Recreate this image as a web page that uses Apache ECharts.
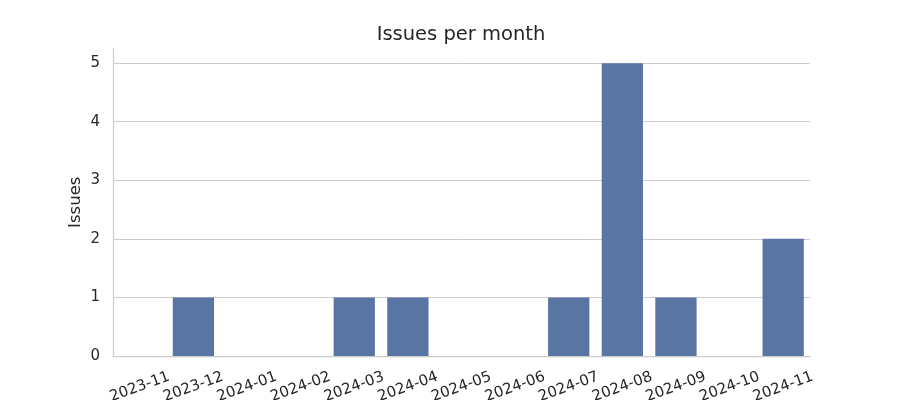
<!DOCTYPE html>
<html>
<head>
<meta charset="utf-8">
<script src="https://cdn.jsdelivr.net/npm/echarts@6/dist/echarts.min.js"></script>
<style>html,body{margin:0;padding:0;background:#fff}#c{width:900px;height:400px}</style>
</head>
<body>
<div id="c"></div>
<script>
const categories = ['2023-11','2023-12','2024-01','2024-02','2024-03','2024-04','2024-05','2024-06','2024-07','2024-08','2024-09','2024-10','2024-11'];
const issues = [0,1,0,0,1,1,0,0,1,5,1,0,2];
const yTicks = [0,1,2,3,4,5];

const chart = echarts.init(document.getElementById('c'), null, {renderer: 'canvas'});
const font = 'DejaVu Sans';
chart.setOption({
  backgroundColor: '#ffffff',
  animation: false,
  title: {
    text: 'Issues per month',
    left: 456, top: 20, textAlign: 'center',
    textStyle: {fontFamily: font, fontSize: 19.5, fontWeight: 'normal', color: '#262626'}
  },
  grid: {left: 113, right: 90, top: 48.5, bottom: 44, containLabel: false, outerBoundsMode: 'none'},
  xAxis: {
    type: 'category',
    data: categories,
    axisLine: {show: true, lineStyle: {color: '#cccccc', width: 1.25}},
    axisTick: {show: false},
    splitLine: {show: false},
    axisLabel: {
      rotate: 20, align: 'center', verticalAlign: 'middle', margin: 31,
      fontFamily: font, fontSize: 15, color: '#262626', interval: 0
    }
  },
  yAxis: {
    type: 'value',
    min: 0, max: 5.25, interval: 1,
    name: 'Issues', nameLocation: 'middle', nameGap: 29, nameMoveOverlap: false,
    nameTextStyle: {fontFamily: font, fontSize: 16.5, color: '#262626'},
    axisLine: {show: true, lineStyle: {color: '#cccccc', width: 1.25}},
    axisTick: {show: false},
    splitLine: {show: true, showMaxLine: false, showMinLine: false, lineStyle: {color: '#cccccc', width: 1}},
    axisLabel: {
      showMaxLabel: false, margin: 13,
      fontFamily: font, fontSize: 15, color: '#262626',
      formatter: function (v) { return yTicks.indexOf(v) >= 0 ? String(v) : ''; }
    }
  },
  series: [{
    type: 'bar',
    data: issues,
    barCategoryGap: '23%',
    itemStyle: {color: '#5975a4', borderWidth: 0}
  }]
});
</script>
</body>
</html>
